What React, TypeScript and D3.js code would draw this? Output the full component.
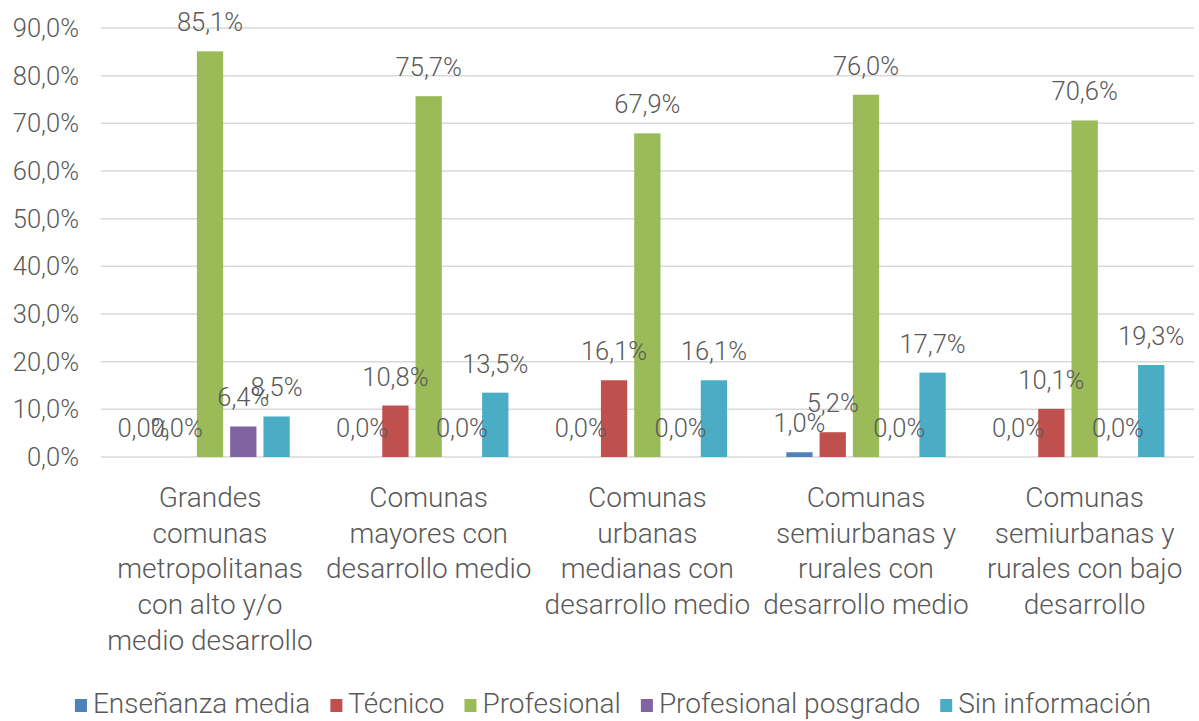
import { useEffect, useRef } from 'react'
import * as d3 from 'd3'

const categoryLines: string[][] = [
  ['Grandes', 'comunas', 'metropolitanas', 'con alto y/o', 'medio desarrollo'],
  ['Comunas', 'mayores con', 'desarrollo medio'],
  ['Comunas', 'urbanas', 'medianas con', 'desarrollo medio'],
  ['Comunas', 'semiurbanas y', 'rurales con', 'desarrollo medio'],
  ['Comunas', 'semiurbanas y', 'rurales con bajo', 'desarrollo'],
]
const categories = categoryLines.map(l => l.join(' '))
const seriesNames = ['Enseñanza media', 'Técnico', 'Profesional', 'Profesional posgrado', 'Sin información']
const seriesColors = ['#4F81BD', '#C0504D', '#9BBB59', '#8064A2', '#4BACC6']

// one array per series, in category order
const ensenanzaMedia = [0.0, 0.0, 0.0, 1.0, 0.0]
const tecnico = [0.0, 10.8, 16.1, 5.2, 10.1]
const profesional = [85.1, 75.7, 67.9, 76.0, 70.6]
const posgrado = [6.4, 0.0, 0.0, 0.0, 0.0]
const sinInfo = [8.5, 13.5, 16.1, 17.7, 19.3]
const seriesValues = [ensenanzaMedia, tecnico, profesional, posgrado, sinInfo]

const yTicks = [0, 10, 20, 30, 40, 50, 60, 70, 80, 90]

const W = 1199
const H = 721
const FONT = 'Roboto, "Liberation Sans", sans-serif'
const TEXT = '#595959'

const fmt = (v: number) => v.toFixed(1).replace('.', ',') + '%'

export default function App() {
  const svgRef = useRef<SVGSVGElement | null>(null)

  useEffect(() => {
    const svg = d3.select(svgRef.current)
    svg.selectAll('*').remove()
    svg.attr('width', W).attr('height', H)
    const g = svg.append('g').style('font-family', FONT).style('font-weight', 300)

    const x0 = d3.scaleBand().domain(categories).range([100.7, 1194])
    const x1 = d3.scaleBand().domain(seriesNames).range([0, x0.bandwidth()])
      .paddingInner(0.21).paddingOuter(0.89)
    const y = d3.scaleLinear().domain([0, 90]).range([457, 28])

    // gridlines
    g.append('g').selectAll('line').data(yTicks).enter().append('line')
      .attr('x1', 100.7).attr('x2', 1194)
      .attr('y1', d => y(d)).attr('y2', d => y(d))
      .attr('stroke', '#D9D9D9').attr('stroke-width', 1.5)

    // y tick labels
    g.append('g').selectAll('text').data(yTicks).enter().append('text')
      .attr('x', 79).attr('y', d => y(d) + 9)
      .attr('text-anchor', 'end')
      .style('font-size', '25.5px').attr('fill', TEXT)
      .text(d => fmt(d))

    const rows = categories.flatMap((c, ci) =>
      seriesNames.map((s, si) => ({ c, s, si, v: seriesValues[si][ci] })))

    g.append('g').selectAll('rect').data(rows).enter().append('rect')
      .attr('x', d => (x0(d.c) ?? 0) + (x1(d.s) ?? 0))
      .attr('width', x1.bandwidth())
      .attr('y', d => y(d.v))
      .attr('height', d => y(0) - y(d.v))
      .attr('fill', d => seriesColors[d.si])

    // data labels, every bar gets one (zeros included)
    g.append('g').selectAll('text').data(rows).enter().append('text')
      .attr('x', d => (x0(d.c) ?? 0) + (x1(d.s) ?? 0) + x1.bandwidth() / 2)
      .attr('y', d => y(d.v) - 20)
      .attr('text-anchor', 'middle')
      .style('font-size', '25.5px').attr('fill', TEXT)
      .text(d => fmt(d.v))

    // category labels
    const cat = g.append('g').selectAll('text').data(categoryLines).enter().append('text')
      .attr('text-anchor', 'middle')
      .style('font-size', '28px').attr('fill', TEXT)
      .attr('transform', (_, i) => `translate(${(x0(categories[i]) ?? 0) + x0.bandwidth() / 2},507)`)
    cat.selectAll('tspan').data(d => d).enter().append('tspan')
      .attr('x', 0).attr('y', (_, i) => i * 35.7)
      .text(d => d)

    // legend
    const items = g.append('g').selectAll('g').data(seriesNames).enter().append('g')
    items.append('rect').attr('width', 12).attr('height', 13).attr('y', -14)
      .attr('fill', (_, i) => seriesColors[i])
    const labels = items.append('text').attr('x', 18)
      .style('font-size', '28px').attr('fill', TEXT)
      .text(d => d)
    const widths: number[] = []
    labels.each(function () { widths.push((this as SVGTextElement).getComputedTextLength()) })
    const itemW = widths.map(w => 18 + w)
    const gap = 20
    const total = d3.sum(itemW) + gap * (itemW.length - 1)
    let cx = 613 - total / 2
    const offs = itemW.map(w => { const o = cx; cx += w + gap; return o })
    items.attr('transform', (_, i) => `translate(${offs[i]},713)`)
  }, [])

  return (
    <svg ref={svgRef} style={{ position: 'absolute', left: 0, top: 0, background: '#fff' }} />
  )
}
